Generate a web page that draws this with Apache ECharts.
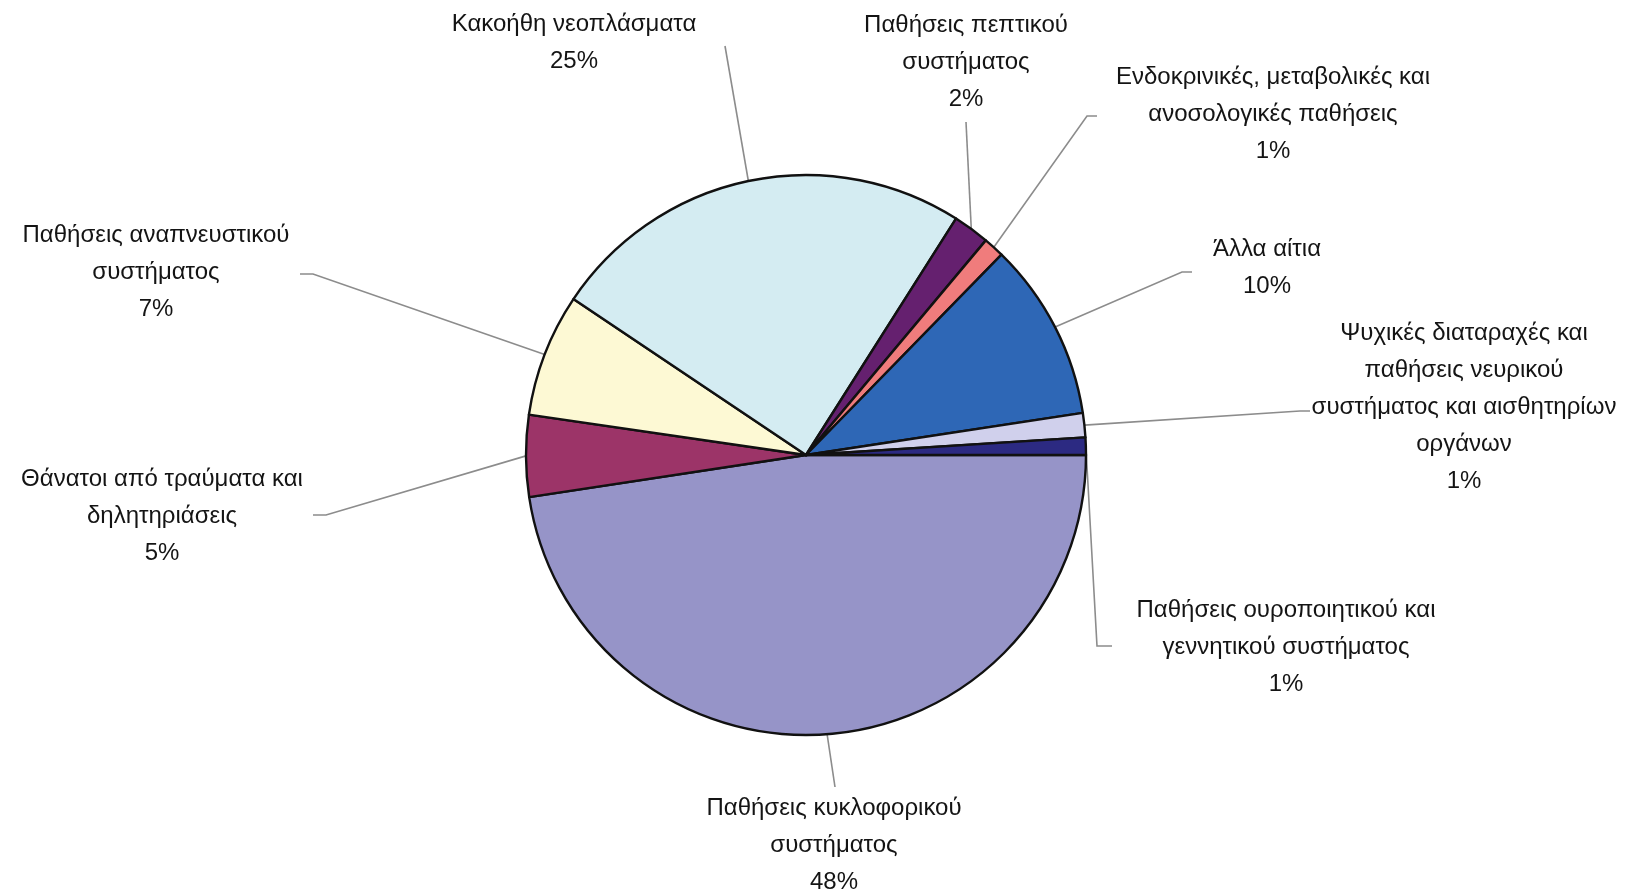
<!DOCTYPE html>
<html>
<head>
<meta charset="utf-8">
<script src="https://cdn.jsdelivr.net/npm/echarts@6/dist/echarts.min.js"></script>
<style>
html,body{margin:0;padding:0;background:#ffffff;}
#chart{width:1626px;height:894px;}
</style>
</head>
<body>
<div id="chart"></div>
<script>
// ---- Data (clockwise from 3 o'clock) ----
const categories = [
  'Παθήσεις κυκλοφορικού\nσυστήματος',
  'Θάνατοι από τραύματα και\nδηλητηριάσεις',
  'Παθήσεις αναπνευστικού\nσυστήματος',
  'Κακοήθη νεοπλάσματα',
  'Παθήσεις πεπτικού\nσυστήματος',
  'Ενδοκρινικές, μεταβολικές και\nανοσολογικές παθήσεις',
  'Άλλα αίτια',
  'Ψυχικές διαταραχές και\nπαθήσεις νευρικού\nσυστήματος και αισθητηρίων\nοργάνων',
  'Παθήσεις ουροποιητικού και\nγεννητικού συστήματος'
];
const values = [47.6, 4.7, 7.1, 24.6, 2.1, 1.2, 10.3, 1.4, 1.0];

// ---- Styles ----
const colors = ['#9694C8', '#9C3468', '#FDF9D4', '#D4ECF2', '#65206F', '#F07C7C', '#2E67B6', '#D0D0EC', '#2C2A82'];

// ---- Label layout (label block centre, leader-line bend and end) ----
const labelLayoutSpec = [
  {cx: 834,  cy: 845, bend: [835, 787], end: [835, 787]},
  {cx: 162,  cy: 516, bend: [326, 515], end: [313, 515]},
  {cx: 156,  cy: 272, bend: [313, 274], end: [300, 274]},
  {cx: 574,  cy: 43,  bend: [725, 46],  end: [725, 46]},
  {cx: 966,  cy: 62,  bend: [966, 122], end: [966, 122]},
  {cx: 1273, cy: 114, bend: [1087, 116], end: [1097, 116]},
  {cx: 1267, cy: 268, bend: [1182, 272], end: [1192, 272]},
  {cx: 1464, cy: 407, bend: [1300, 411], end: [1310, 411]},
  {cx: 1286, cy: 647, bend: [1097, 646], end: [1112, 646]}
];

const CENTER = [806, 455];
const RADIUS = 280;

// mid-angle edge points for the leader lines
const total = values.reduce((a, b) => a + b, 0);
function edgePoint(i) {
  let acc = 0;
  for (let k = 0; k < i; k++) acc += values[k];
  const mid = (acc + values[i] / 2) / total * 2 * Math.PI;
  return [CENTER[0] + RADIUS * Math.cos(mid), CENTER[1] + RADIUS * Math.sin(mid)];
}

const chart = echarts.init(document.getElementById('chart'), null, {renderer: 'canvas'});
chart.setOption({
  backgroundColor: '#ffffff',
  animation: false,
  series: [{
    type: 'pie',
    center: CENTER,
    radius: RADIUS,
    startAngle: 0,
    clockwise: true,
    avoidLabelOverlap: false,
    minShowLabelAngle: 0,
    data: categories.map((name, i) => ({
      name: name,
      value: values[i],
      itemStyle: {color: colors[i]}
    })),
    itemStyle: {borderColor: '#111111', borderWidth: 2.4},
    emphasis: {disabled: true},
    label: {
      show: true,
      position: 'outside',
      formatter: p => p.name + '\n' + Math.round(p.percent) + '%',
      fontFamily: '"Liberation Sans", Arial, sans-serif',
      fontSize: 24,
      lineHeight: 37,
      color: '#141414',
      align: 'center'
    },
    labelLine: {
      show: true,
      length: 20,
      length2: 20,
      lineStyle: {color: '#8c8c8c', width: 1.6}
    },
    labelLayout: function (params) {
      const s = labelLayoutSpec[params.dataIndex];
      const start = edgePoint(params.dataIndex);
      return {
        x: s.cx,
        y: s.cy,
        align: 'center',
        verticalAlign: 'middle',
        labelLinePoints: [start, s.bend, s.end]
      };
    }
  }]
});
</script>
</body>
</html>
